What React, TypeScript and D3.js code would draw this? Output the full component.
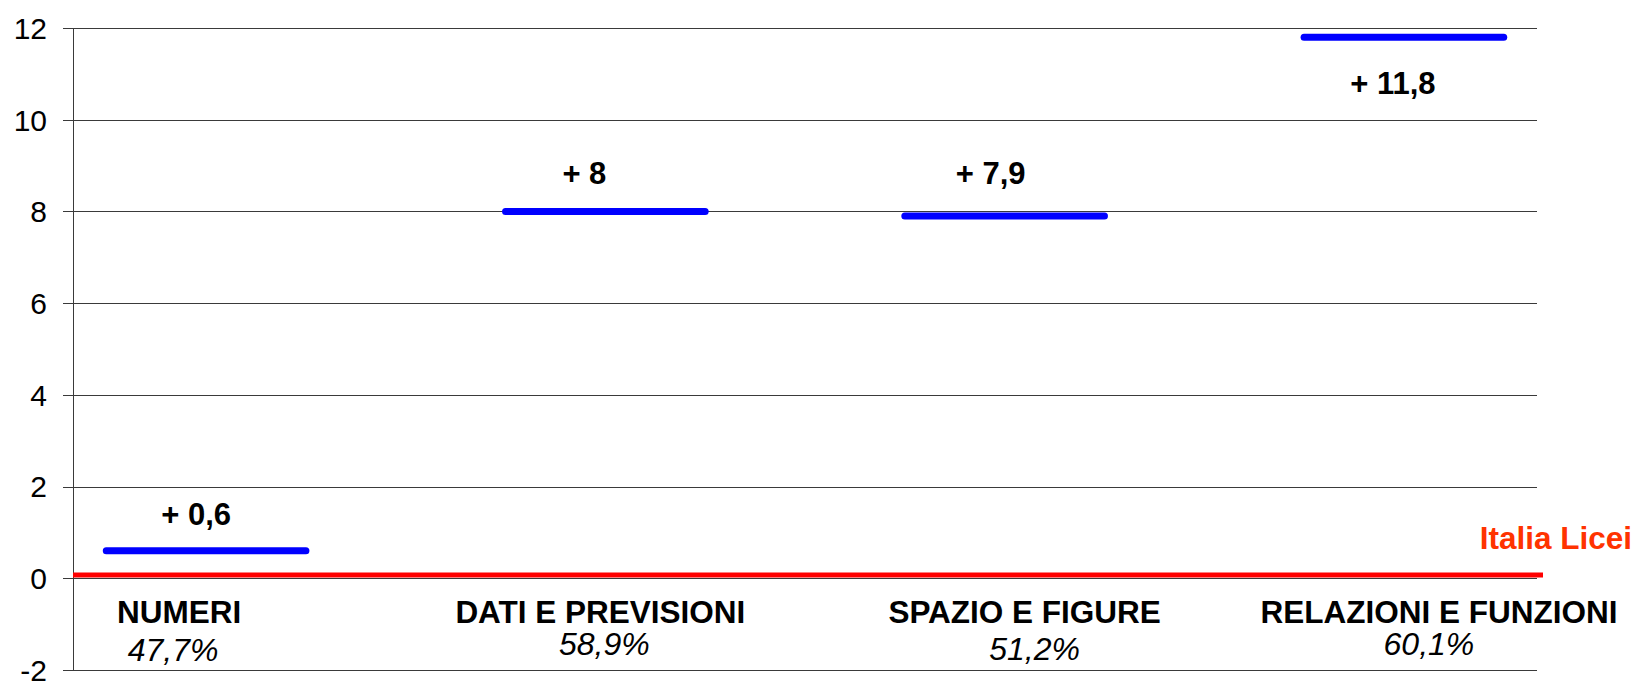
import React from "react";
import * as d3 from "d3";

// ---- data ----
const domains = ["NUMERI", "DATI E PREVISIONI", "SPAZIO E FIGURE", "RELAZIONI E FUNZIONI"];
const percents = ["47,7%", "58,9%", "51,2%", "60,1%"];
const differences = [0.6, 8, 7.9, 11.8];
const valueLabels = ["+ 0,6", "+ 8", "+ 7,9", "+ 11,8"];
const referenceLabel = "Italia Licei";
const referenceValue = 0.07;
const yTicks = [-2, 0, 2, 4, 6, 8, 10, 12];
// each domain occupies 6 slots on a 22-slot category axis; its line spans 4 of them
const slotCount = 22;
const slotsPerDomain = 6;
const pointsPerSegment = 4;

// ---- layout ----
const W = 1639;
const H = 682;
const left = 73;
const right = 1537;
const top = 28;
const bottom = 670;
const valueLabelDx = [-10, -21, -14, -11];
const valueLabelDy = [-26, -27, -32, 57];
const catLabelDx = [-27, -5, 20, 35];
const pctLabelDx = [-33, -1, 30, 25];
const pctLabelDy = [83, 77, 82, 77];
const FONT = "'Liberation Sans', Arial, Helvetica, sans-serif";

export default function App() {
  const y = d3.scaleLinear().domain([-2, 12]).range([bottom, top]);
  const x = d3
    .scalePoint<number>()
    .domain(d3.range(slotCount))
    .range([left, right])
    .padding(0.5);
  const line = d3
    .line<{ i: number; v: number }>()
    .x((d) => x(d.i) as number)
    .y((d) => y(d.v));

  const segs = differences.map((v, k) => {
    const pts = d3.range(pointsPerSegment).map((j) => ({ i: k * slotsPerDomain + j, v }));
    const cx = ((x(pts[0].i) as number) + (x(pts[pts.length - 1].i) as number)) / 2;
    return { v, pts, cx };
  });
  const y0 = y(0);

  return (
    <svg
      width={W}
      height={H}
      style={{ position: "absolute", left: 0, top: 0, display: "block", background: "#fff" }}
      fontFamily={FONT}
    >
      {/* gridlines */}
      {yTicks.map((t) => (
        <g key={t}>
          <line
            x1={left - 10}
            x2={right}
            y1={Math.round(y(t)) + 0.5}
            y2={Math.round(y(t)) + 0.5}
            stroke="#3a3a3a"
            strokeWidth={1}
          />
          <text
            x={47}
            y={y(t)}
            dy="0.36em"
            textAnchor="end"
            fontSize={30}
            fill="#000"
          >
            {t}
          </text>
        </g>
      ))}
      {/* y axis */}
      <line x1={left + 0.5} x2={left + 0.5} y1={y(12)} y2={y(-2)} stroke="#3a3a3a" strokeWidth={1} />

      {/* reference line */}
      <line
        x1={left}
        x2={right + 6}
        y1={y(referenceValue)}
        y2={y(referenceValue)}
        stroke="#ff0000"
        strokeWidth={5}
      />
      <text
        x={1632}
        y={549}
        textAnchor="end"
        fontSize={31.5}
        fontWeight="bold"
        fill="#ff3300"
      >
        {referenceLabel}
      </text>

      {/* segments */}
      {segs.map((s, k) => (
        <g key={k}>
          <path
            d={line(s.pts) || ""}
            fill="none"
            stroke="#0000ff"
            strokeWidth={7}
            strokeLinecap="round"
          />
          <text
            x={s.cx + valueLabelDx[k]}
            y={y(s.v) + valueLabelDy[k]}
            textAnchor="middle"
            fontSize={31}
            fontWeight="bold"
            fill="#000"
          >
            {valueLabels[k]}
          </text>
          <text
            x={s.cx + catLabelDx[k]}
            y={y0 + 45}
            textAnchor="middle"
            fontSize={31.5}
            fontWeight="bold"
            fill="#000"
          >
            {domains[k]}
          </text>
          <text
            x={s.cx + pctLabelDx[k]}
            y={y0 + pctLabelDy[k]}
            textAnchor="middle"
            fontSize={32}
            fontStyle="italic"
            fill="#000"
          >
            {percents[k]}
          </text>
        </g>
      ))}
    </svg>
  );
}
